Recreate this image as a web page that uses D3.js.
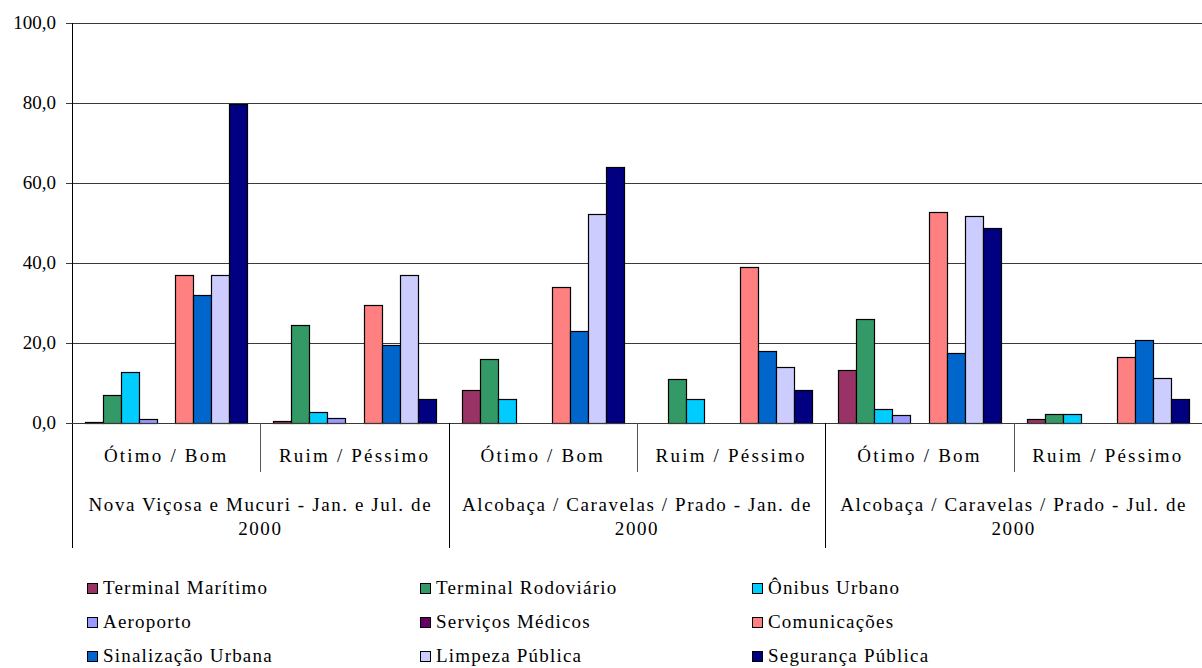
<!DOCTYPE html>
<html>
<head>
<meta charset="utf-8">
<script src="https://cdn.jsdelivr.net/npm/d3@7"></script>
<style>
  body { margin: 0; background: #fff; }
</style>
</head>
<body>
<div id="chart"></div>
<script>
const places = [
  ["Nova Viçosa e Mucuri - Jan. e Jul. de", "2000"],
  ["Alcobaça / Caravelas / Prado - Jan. de", "2000"],
  ["Alcobaça / Caravelas / Prado - Jul. de", "2000"]
]
const ratings = ["Ótimo / Bom", "Ruim / Péssimo"]
const seriesNames = ["Terminal Marítimo", "Terminal Rodoviário", "Ônibus Urbano", "Aeroporto",
  "Serviços Médicos", "Comunicações", "Sinalização Urbana", "Limpeza Pública", "Segurança Pública"]
const seriesColors = ["#993366", "#339966", "#00ccff", "#9999ff", "#660066", "#ff8080", "#0066cc", "#ccccff", "#000080"]

// one value per group: place x rating
const maritimo    = [0.3, 0.4, 8.2, 0, 13.3, 0.9]
const rodoviario  = [7.0, 24.5, 15.9, 10.9, 26.1, 2.3]
const onibus      = [12.8, 2.7, 5.9, 5.9, 3.6, 2.3]
const aeroporto   = [0.9, 1.2, 0, 0, 1.9, 0]
const medicos     = [0, 0, 0, 0, 0, 0]
const comunic     = [37.0, 29.5, 33.9, 38.9, 52.8, 16.4]
const sinalizacao = [32.0, 19.5, 22.9, 17.9, 17.6, 20.7]
const limpeza     = [37.0, 37.0, 52.2, 14.0, 51.7, 11.3]
const seguranca   = [79.7, 5.9, 63.9, 8.2, 48.7, 5.9]
const yTicks = [0, 20, 40, 60, 80, 100]

const values = [maritimo, rodoviario, onibus, aeroporto, medicos, comunic, sinalizacao, limpeza, seguranca]

const width = 1202
const height = 668
const margin = {top: 23, right: 0, bottom: 245, left: 72}
const plotBottom = height - margin.bottom
const serif = "'Liberation Serif'"

const groups = d3.range(places.length * ratings.length)

const svg = d3.select("#chart").append("svg")
  .attr("width", width)
  .attr("height", height)

const x0 = d3.scaleBand().domain(groups).range([margin.left, width - margin.right])
const x1 = d3.scaleBand().domain(d3.range(seriesNames.length))
  .range([0, x0.bandwidth()]).paddingInner(0).paddingOuter(0.72)
const y = d3.scaleLinear().domain([0, 100]).range([plotBottom, margin.top])

const fmt = v => d3.format(".1f")(v).replace(".", ",")

// grid
svg.append("g")
  .selectAll("line")
  .data(yTicks)
  .join("line")
    .attr("x1", margin.left - 6)
    .attr("x2", width)
    .attr("y1", d => Math.round(y(d)) + 0.5)
    .attr("y2", d => Math.round(y(d)) + 0.5)
    .attr("stroke", "#3a3a3a")

svg.append("g")
    .attr("text-anchor", "end")
  .selectAll("text")
  .data(yTicks)
  .join("text")
    .attr("x", margin.left - 16)
    .attr("y", d => y(d))
    .attr("dy", "0.34em")
    .style("font-family", serif)
    .style("font-size", "19px")
    .text(fmt)

// bars
const bars = []
groups.forEach(g => {
  values.forEach((vals, s) => {
    if (vals[g] > 0) bars.push({g, s, v: vals[g]})
  })
})

svg.append("g")
  .selectAll("rect")
  .data(bars)
  .join("rect")
    .attr("x", d => Math.round(x0(d.g) + x1(d.s)) + 0.5)
    .attr("y", d => Math.round(y(d.v)) + 0.5)
    .attr("width", Math.round(x1.bandwidth()))
    .attr("height", d => Math.round(plotBottom - y(d.v)))
    .attr("fill", d => seriesColors[d.s])
    .attr("stroke", "#000")
    .attr("stroke-width", 1.2)

// axes lines
svg.append("line")
  .attr("x1", margin.left + 0.5).attr("x2", margin.left + 0.5)
  .attr("y1", margin.top).attr("y2", 548)
  .attr("stroke", "#000")

svg.append("line")
  .attr("x1", margin.left).attr("x2", width)
  .attr("y1", plotBottom + 0.5).attr("y2", plotBottom + 0.5)
  .attr("stroke", "#3a3a3a")

// category separators
svg.append("g")
  .selectAll("line")
  .data(groups.slice(1))
  .join("line")
    .attr("x1", d => Math.round(x0(d)) + 0.5)
    .attr("x2", d => Math.round(x0(d)) + 0.5)
    .attr("y1", plotBottom)
    .attr("y2", d => d % ratings.length === 0 ? 548 : 472)
    .attr("stroke", d => d % ratings.length === 0 ? "#000" : "#555")

// inner labels
svg.append("g")
    .attr("text-anchor", "middle")
  .selectAll("text")
  .data(groups)
  .join("text")
    .attr("x", d => x0(d) + x0.bandwidth() / 2)
    .attr("y", 456)
    .attr("dy", "0.34em")
    .style("font-family", serif)
    .style("font-size", "19px")
    .style("letter-spacing", "2.2px")
    .text(d => ratings[d % ratings.length])

// outer labels
const outer = svg.append("g")
    .attr("text-anchor", "middle")
  .selectAll("text")
  .data(places)
  .join("text")
    .attr("x", (d, i) => x0(i * ratings.length) + x0.bandwidth())
    .attr("y", 505)
    .style("font-family", serif)
    .style("font-size", "19px")
    .style("letter-spacing", "1.6px")

outer.selectAll("tspan")
  .data(d => d)
  .join("tspan")
    .attr("x", function() { return d3.select(this.parentNode).attr("x") })
    .attr("dy", (d, i) => i === 0 ? "0.34em" : "24px")
    .text(d => d)

// legend
const colX = [87, 420, 752]
const rowY = [588, 622, 656]
const legend = svg.append("g")
  .selectAll("g")
  .data(seriesNames)
  .join("g")
    .attr("transform", (d, i) => `translate(${colX[i % 3]},${rowY[Math.floor(i / 3)]})`)

legend.append("rect")
  .attr("x", 0.5).attr("y", -4.5)
  .attr("width", 10).attr("height", 10)
  .attr("fill", (d, i) => seriesColors[i])
  .attr("stroke", "#000")

legend.append("text")
  .attr("x", 16)
  .attr("y", 0)
  .attr("dy", "0.34em")
  .style("font-family", serif)
  .style("font-size", "19px")
  .style("letter-spacing", "1.2px")
  .text(d => d)
</script>
</body>
</html>
